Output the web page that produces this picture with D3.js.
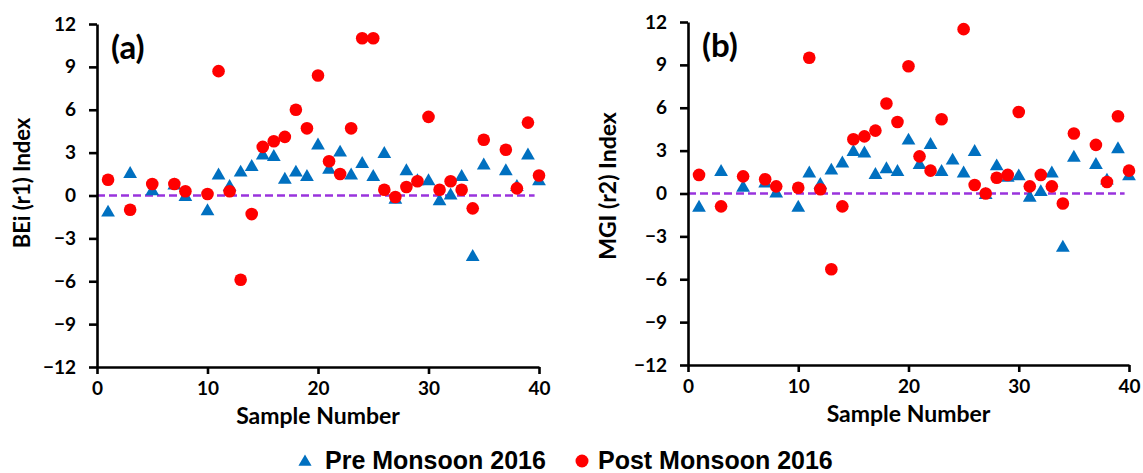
<!DOCTYPE html>
<html>
<head>
<meta charset="utf-8">
<script src="https://cdn.jsdelivr.net/npm/d3@7"></script>
<style>
  body { margin: 0; background: #fff; }
  svg { display: block; }
  .tick text { font-family: Lato, "Open Sans", sans-serif; font-weight: 700; font-size: 19px; fill: #000; }
  .axis path, .axis line { stroke: #000; stroke-width: 2.6px; }
</style>
</head>
<body>
<div id="chart"></div>
<script>
// sample numbers that were measured (2, 4, 6, 9 and 36 are absent)
const samples = [1, 3, 5, 7, 8, 10, 11, 12, 13, 14, 15, 16, 17, 18, 19, 20,
  21, 22, 23, 24, 25, 26, 27, 28, 29, 30, 31, 32, 33, 34, 35, 37, 38, 39, 40];

// (a) BEi (r1) index
const preA = [-1.2, 1.5, 0.3, 0.7, -0.1, -1.1, 1.4, 0.6, 1.6, 2.0, 2.8, 2.7, 1.1, 1.6, 1.3, 3.5,
  1.8, 3.0, 1.4, 2.2, 1.3, 2.9, -0.3, 1.7, 1.0, 1.0, -0.4, 0.0, 1.3, -4.3, 2.1, 1.7, 0.6, 2.8, 1.0];
const postA = [1.1, -1.0, 0.8, 0.8, 0.3, 0.1, 8.7, 0.3, -5.9, -1.3, 3.4, 3.8, 4.1, 6.0, 4.7, 8.4,
  2.4, 1.5, 4.7, 11.0, 11.0, 0.4, -0.1, 0.6, 1.0, 5.5, 0.4, 1.0, 0.4, -0.9, 3.9, 3.2, 0.5, 5.1, 1.4];

// (b) MGI (r2) index
const preB = [-1.0, 1.5, 0.4, 0.7, 0.0, -1.0, 1.4, 0.6, 1.6, 2.1, 2.9, 2.8, 1.3, 1.7, 1.5, 3.7,
  2.0, 3.4, 1.5, 2.3, 1.4, 2.9, -0.1, 1.9, 1.1, 1.2, -0.3, 0.1, 1.4, -3.8, 2.5, 2.0, 0.9, 3.1, 1.2];
const postB = [1.3, -0.9, 1.2, 1.0, 0.5, 0.4, 9.5, 0.3, -5.3, -0.9, 3.8, 4.0, 4.4, 6.3, 5.0, 8.9,
  2.6, 1.6, 5.2, null, 11.5, 0.6, 0.0, 1.1, 1.3, 5.7, 0.5, 1.3, 0.5, -0.7, 4.2, 3.4, 0.8, 5.4, 1.6];

const xTicks = [0, 10, 20, 30, 40];
const yTicks = [-12, -9, -6, -3, 0, 3, 6, 9, 12];
const seriesNames = ["Pre Monsoon 2016", "Post Monsoon 2016"];

const W = 1143, H = 473;
const blue = "#0070C0", red = "#FF0000", purple = "#9933DD";

const svg = d3.select("#chart").append("svg")
  .attr("width", W).attr("height", H);

const tri = d3.symbol().type(d3.symbolTriangle).size(82);

function panel(cfg) {
  const x = d3.scaleLinear().domain([0, 40]).range([cfg.x0, cfg.x1]);
  const y = d3.scaleLinear().domain([-12, 12]).range([cfg.y0, cfg.y1]);

  // zero line
  svg.append("line")
    .attr("x1", x(0)).attr("x2", x(39.6))
    .attr("y1", y(0)).attr("y2", y(0))
    .style("stroke", purple)
    .style("stroke-width", 2.6)
    .style("stroke-dasharray", "8,4");

  svg.append("g").attr("class", "axis")
    .attr("transform", "translate(0," + cfg.y0 + ")")
    .call(d3.axisBottom(x).tickValues(xTicks).tickSizeInner(7).tickSizeOuter(0).tickPadding(8));

  svg.append("g").attr("class", "axis")
    .attr("transform", "translate(" + cfg.x0 + ",0)")
    .call(d3.axisLeft(y).tickValues(yTicks).tickSizeInner(8).tickSizeOuter(0).tickPadding(13));

  const pre = samples.map(function (s, i) { return {s: s, v: cfg.pre[i]}; }).filter(function (d) { return d.v != null; });
  const post = samples.map(function (s, i) { return {s: s, v: cfg.post[i]}; }).filter(function (d) { return d.v != null; });

  svg.append("g").selectAll("path")
    .data(pre).enter()
    .append("path")
    .attr("d", tri)
    .attr("transform", function (d) { return "translate(" + x(d.s) + "," + y(d.v) + ")"; })
    .style("fill", blue);

  svg.append("g").selectAll("circle")
    .data(post).enter()
    .append("circle")
    .attr("cx", function (d) { return x(d.s); })
    .attr("cy", function (d) { return y(d.v); })
    .attr("r", 6.3)
    .style("fill", red);

  // panel letter
  svg.append("text")
    .attr("x", cfg.x0 + 14).attr("y", cfg.y1 + 35)
    .style("font-family", "Lato, sans-serif").style("font-weight", 700).style("font-size", "33px")
    .text(cfg.letter);

  svg.append("text")
    .attr("x", (cfg.x0 + cfg.x1) / 2).attr("y", cfg.y0 + 57)
    .attr("text-anchor", "middle")
    .style("font-family", "Lato, sans-serif").style("font-weight", 700).style("font-size", "23px")
    .text("Sample Number");

  svg.append("text")
    .attr("transform", "translate(" + cfg.titleX + "," + cfg.titleY + ") rotate(-90)")
    .attr("text-anchor", "middle")
    .style("font-family", "Lato, sans-serif").style("font-weight", 700).style("font-size", cfg.titleSize)
    .text(cfg.title);
}

panel({x0: 97, x1: 539, y0: 367, y1: 24, pre: preA, post: postA, letter: "(a)",
  title: "BEi (r1) Index", titleX: 30, titleY: 183, titleSize: "22px"});
panel({x0: 688, x1: 1129, y0: 365, y1: 22, pre: preB, post: postB, letter: "(b)",
  title: "MGI (r2) Index", titleX: 616, titleY: 186, titleSize: "23px"});

// legend
const legend = svg.append("g").attr("transform", "translate(305,461)");
legend.append("path").attr("d", d3.symbol().type(d3.symbolTriangle).size(75)).attr("transform", "translate(0,1)").style("fill", blue);
legend.append("text").attr("x", 20).attr("y", 8)
  .style("font-family", "'Liberation Sans', Arial, sans-serif").style("font-weight", 700).style("font-size", "25px")
  .text(seriesNames[0]);
legend.append("circle").attr("cx", 277).attr("cy", 0).attr("r", 6.5).style("fill", red);
legend.append("text").attr("x", 293).attr("y", 8)
  .style("font-family", "'Liberation Sans', Arial, sans-serif").style("font-weight", 700).style("font-size", "25px")
  .text(seriesNames[1]);
</script>
</body>
</html>
